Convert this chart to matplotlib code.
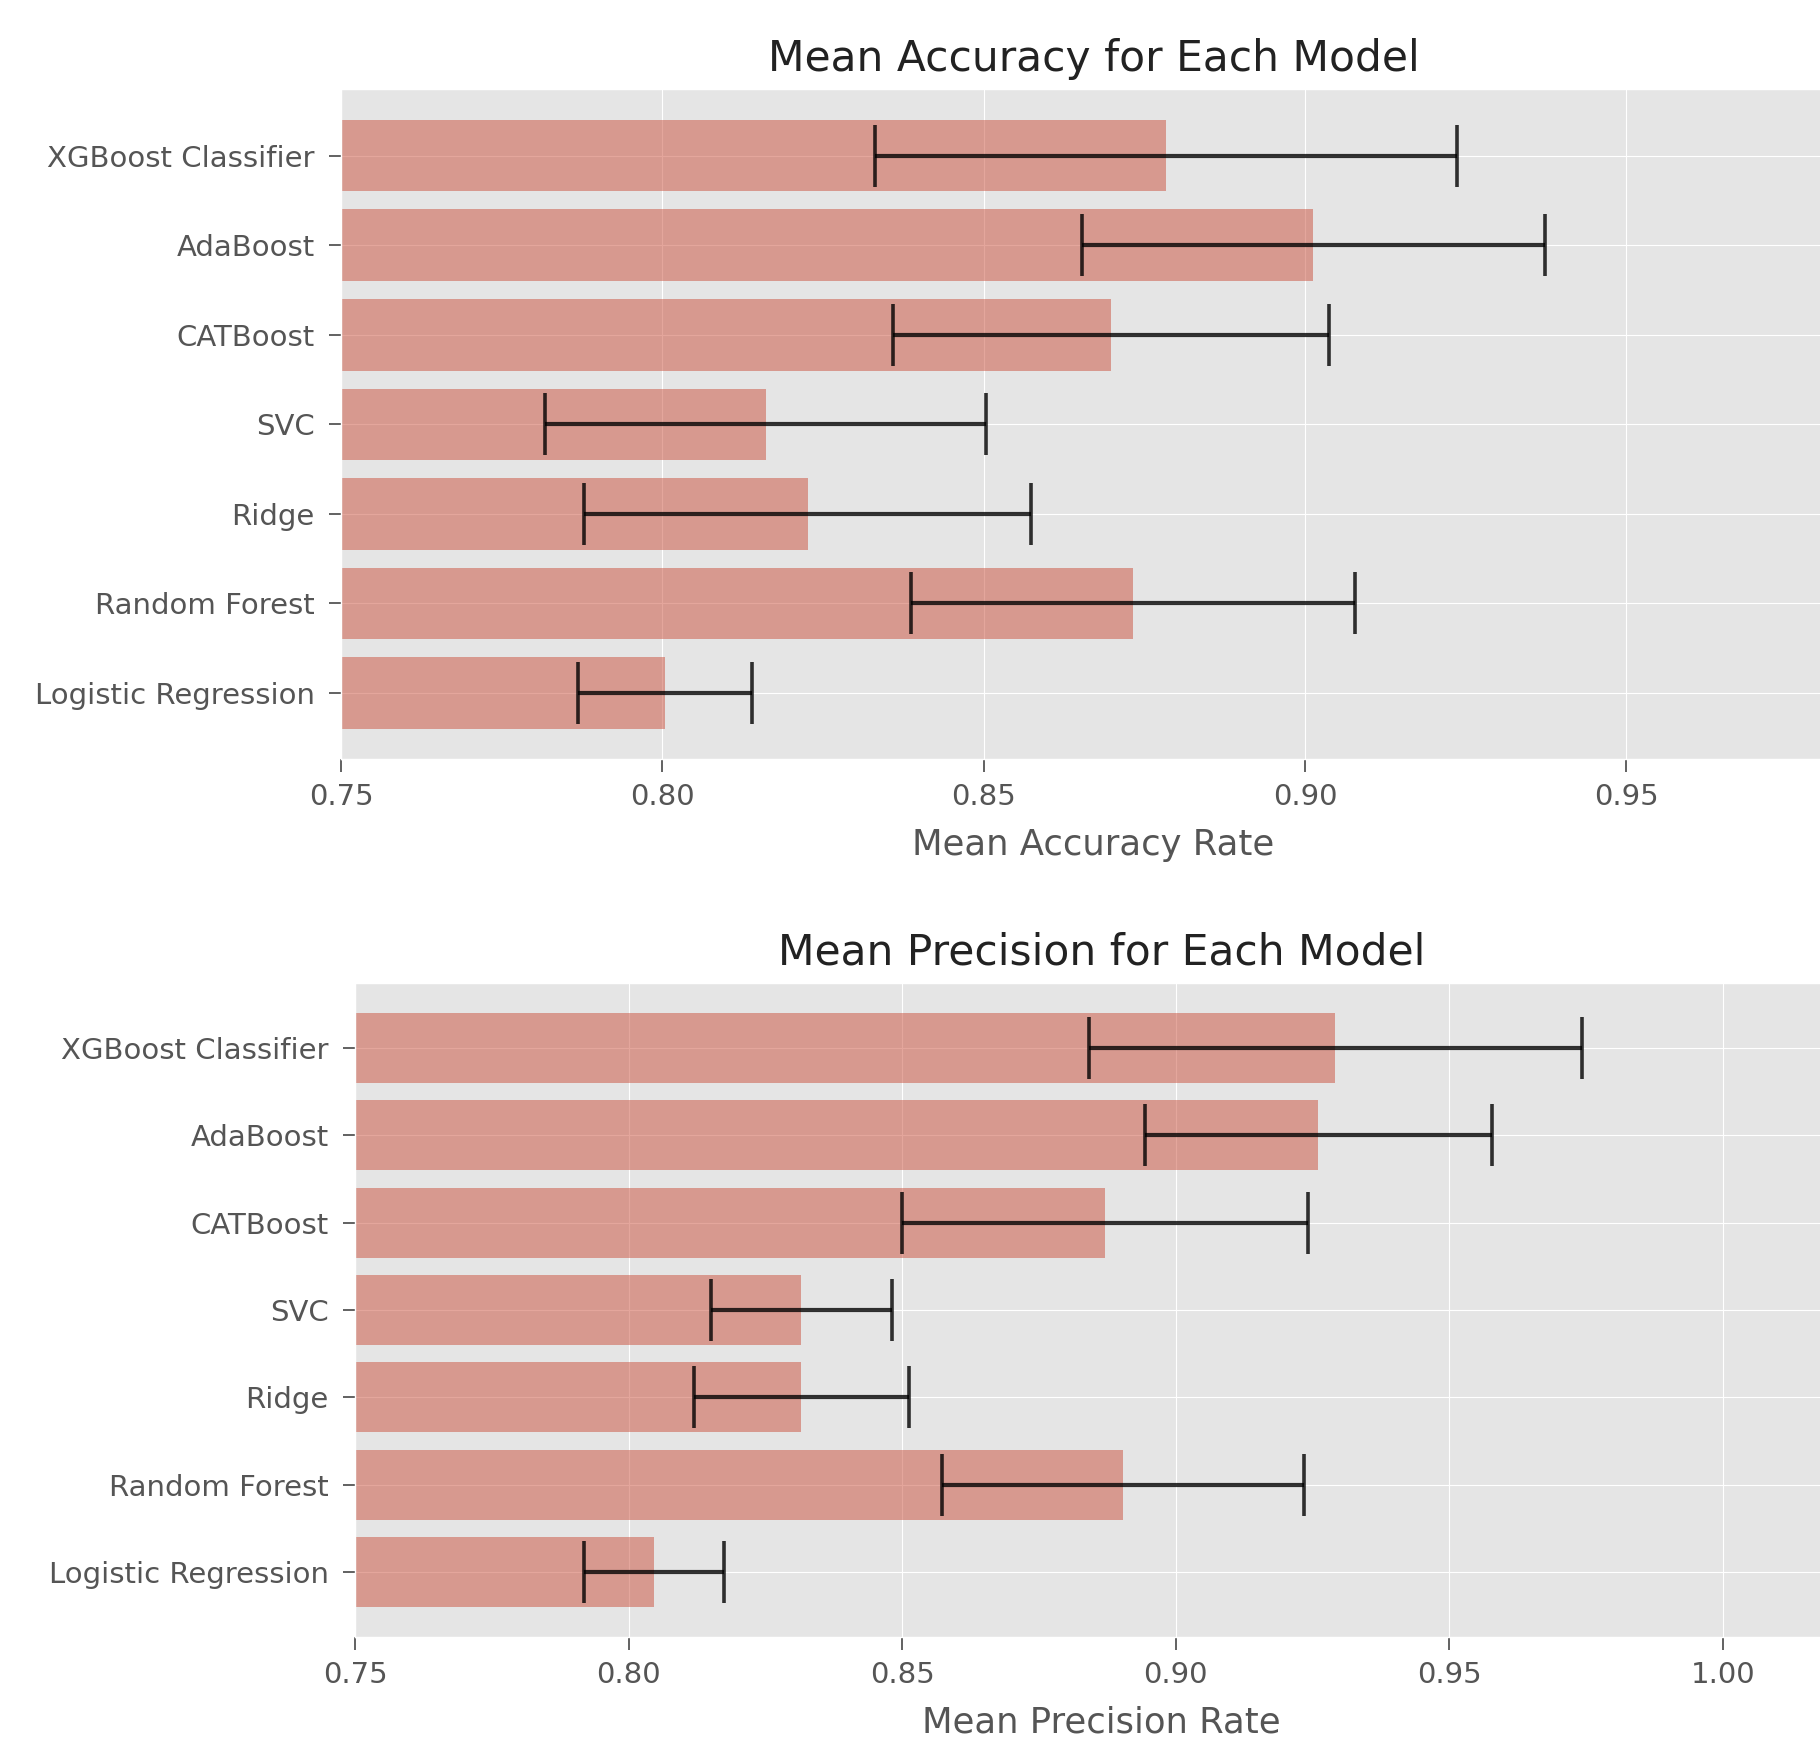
import matplotlib
matplotlib.use('Agg')
import matplotlib.pyplot as plt
import numpy as np

plt.style.use('ggplot')

models = ['Logistic Regression', 'Random Forest', 'Ridge', 'SVC',
          'CATBoost', 'AdaBoost', 'XGBoost Classifier']

# mean / std from cross validation
acc_mean = [0.8004, 0.8732, 0.8226, 0.8161, 0.8698, 0.9013, 0.8784]
acc_std = [0.0136, 0.0345, 0.0348, 0.0343, 0.0339, 0.0360, 0.0453]

prec_mean = [0.8046, 0.8903, 0.8316, 0.8316, 0.8871, 0.9261, 0.9292]
prec_std = [0.0128, 0.0331, 0.0196, 0.0165, 0.0371, 0.0317, 0.0450]

fig = plt.figure(figsize=(18.2, 17.46), dpi=100)
ax1 = fig.add_axes([0.1874, 0.5651, 0.8269, 0.3837])
ax2 = fig.add_axes([0.1951, 0.0624, 0.8203, 0.3746])


def draw(ax, means, stds, title, xlabel):
    y = np.arange(len(models))
    ax.barh(y, means, xerr=stds, align='center', alpha=0.5,
            color='#CA4F3B',
            error_kw=dict(ecolor='black', lw=3, capsize=22, capthick=2.6,
                          alpha=0.8))
    ax.set_yticks(y)
    ax.set_yticklabels(models)
    ax.set_xlim(left=0.75)
    ax.set_title(title, fontsize=30.5, pad=13, color='#222222')
    ax.set_xlabel(xlabel, fontsize=25.5, labelpad=12)
    ax.tick_params(axis='both', labelsize=21, length=9, width=1.3)
    ax.tick_params(axis='x', pad=8)
    ax.tick_params(axis='y', pad=10)


draw(ax1, acc_mean, acc_std, 'Mean Accuracy for Each Model', 'Mean Accuracy Rate')
draw(ax2, prec_mean, prec_std, 'Mean Precision for Each Model', 'Mean Precision Rate')

fig.savefig('out.png', dpi=100)
